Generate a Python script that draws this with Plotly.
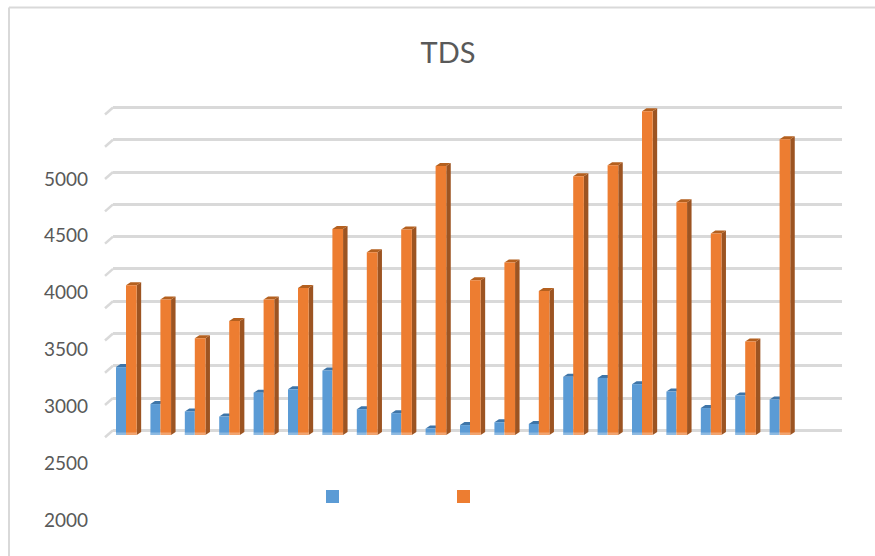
import plotly.graph_objects as go

SERIES_A = [3345, 3020, 2955, 2910, 3120, 3150, 3315, 2975, 2940, 2805,
            2835, 2860, 2845, 3260, 3250, 3195, 3130, 2985, 3095, 3060]
SERIES_B = [4065, 3940, 3600, 3750, 3940, 4040, 4560, 4355, 4555, 5115,
            4110, 4265, 4015, 5025, 5120, 5595, 4795, 4520, 3570, 5350]
Y_TICKS = [2000, 2500, 3000, 3500, 4000, 4500, 5000]
GRID_VALUES = [2789, 3073, 3357, 3641, 3925, 4209, 4493, 4777, 5061, 5345, 5629]
BASELINE = 2748
TITLE = "TDS"

W, H = 875, 556
L, R, T, B = 113, 842, 100, 535
PX_PER_CAT = 34.4
PX_PER_VAL = 0.11367

BLUE, ORANGE = "#5B9BD5", "#ED7D31"
BLUE_TOP, BLUE_SIDE = "#3E75A8", "#37648F"
ORANGE_TOP, ORANGE_SIDE = "#B4601F", "#9C5422"
GRID = "#D9D9D9"
TEXT = "#595959"

x = list(range(len(SERIES_A)))
bw_a, bw_b = 0.29, 0.31
dx, dy = 4.5 / PX_PER_CAT, 3 / PX_PER_VAL

fig = go.Figure()
fig.add_bar(x=x, y=[v - BASELINE for v in SERIES_A], base=BASELINE, width=bw_a, offset=-bw_a,
            marker=dict(color=BLUE, line_width=0), name="Series 1", showlegend=False)
fig.add_bar(x=x, y=[v - BASELINE for v in SERIES_B], base=BASELINE, width=bw_b, offset=0,
            marker=dict(color=ORANGE, line_width=0), name="Series 2", showlegend=False)

shapes = []


def poly(points, color, layer="between"):
    path = "M " + " L ".join(f"{a},{b}" for a, b in points) + " Z"
    return dict(type="path", path=path, xref="x", yref="y", fillcolor=color,
                line_width=0, layer=layer)


for i, (a, b) in enumerate(zip(SERIES_A, SERIES_B)):
    # blue top
    shapes.append(poly([(i - bw_a, a), (i - bw_a + dx, a + dy), (i + dx, a + dy), (i, a)], BLUE_TOP))
    # orange side and top
    r = i + bw_b
    shapes.append(poly([(r, BASELINE), (r + dx, BASELINE + dy), (r + dx, b + dy), (r, b)], ORANGE_SIDE))
    shapes.append(poly([(i, b), (i + dx, b + dy), (r + dx, b + dy), (r, b)], ORANGE_TOP))
    # pale strip at the foot of the bars
    shapes.append(dict(type="rect", xref="x", yref="y", x0=i - bw_a, x1=r,
                       y0=BASELINE, y1=BASELINE + 2.5 / PX_PER_VAL,
                       fillcolor="rgba(255,255,255,0.3)", line_width=0, layer="above"))

# front stubs of the floor / wall grid
for g in GRID_VALUES:
    shapes.append(dict(type="line", xref="paper", yref="y", xsizemode="pixel", ysizemode="pixel",
                       xanchor=0, yanchor=g, x0=-8, y0=-7, x1=0, y1=0,
                       line=dict(color=GRID, width=2.5), layer="below"))


def px_x(p):
    return (p - L) / (R - L)


def px_y(p):
    return (B - p) / (B - T)


# chart frame
shapes.append(dict(type="line", xref="paper", yref="paper", x0=px_x(9), x1=px_x(9),
                   y0=px_y(7.5), y1=px_y(H), line=dict(color=GRID, width=2)))
shapes.append(dict(type="line", xref="paper", yref="paper", x0=px_x(9), x1=px_x(W),
                   y0=px_y(7.5), y1=px_y(7.5), line=dict(color=GRID, width=2)))
# legend keys
for left, color in ((326, BLUE), (457, ORANGE)):
    shapes.append(dict(type="rect", xref="paper", yref="paper", x0=px_x(left), x1=px_x(left + 13),
                       y0=px_y(503), y1=px_y(490), fillcolor=color, line_width=0))

fig.update_layout(
    width=W, height=H, autosize=False,
    margin=dict(l=L, r=W - R, t=T, b=H - B, pad=0),
    paper_bgcolor="white", plot_bgcolor="white",
    font=dict(family="Lato", color=TEXT),
    title=dict(text=TITLE, x=448 / W, xref="container", xanchor="center",
               y=1 - 53 / H, yanchor="middle", font=dict(size=29, color=TEXT, family="Lato")),
    barmode="overlay",
    xaxis=dict(visible=False, range=[(L - 126) / PX_PER_CAT, (R - 126) / PX_PER_CAT]),
    yaxis=dict(range=[2000 + (520 - B) / PX_PER_VAL, 2000 + (520 - T) / PX_PER_VAL],
               tickmode="array", tickvals=Y_TICKS, ticktext=[str(v) for v in Y_TICKS],
               tickfont=dict(size=19, color=TEXT, family="Lato"), ticks="", showgrid=False,
               zeroline=False, showline=False, ticklabelstandoff=24,
               minor=dict(tickmode="array", tickvals=GRID_VALUES, showgrid=True,
                          gridcolor=GRID, gridwidth=3, ticks="")),
    shapes=shapes,
)

fig.write_html("out.html", config={"displayModeBar": False},
               post_script="document.body.style.margin='0';")
